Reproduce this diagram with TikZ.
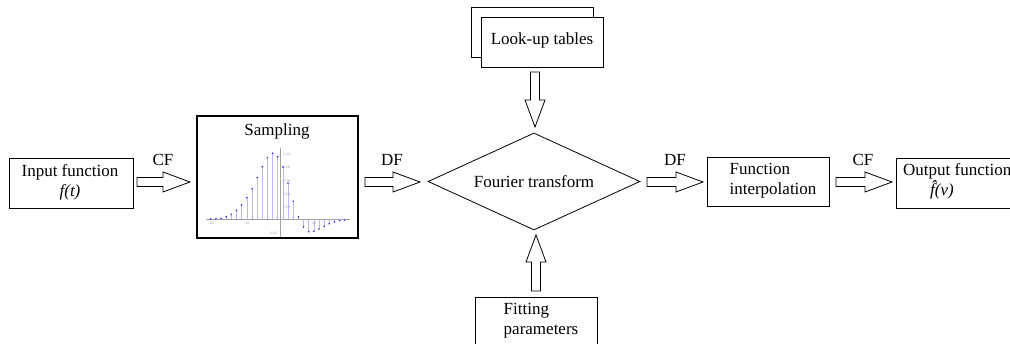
\documentclass[tikz,border=0pt]{standalone}
\usepackage{fontspec}
\setmainfont{Liberation Serif}
\newfontfamily\plotfont{Liberation Sans}
\usetikzlibrary{shapes.geometric}
\definecolor{stemc}{RGB}{185,185,240}
\definecolor{dotc}{RGB}{40,40,230}
\definecolor{axc}{RGB}{160,160,160}
\begin{document}
\begin{tikzpicture}[x=1pt,y=-1pt,
  txt/.style={font=\fontsize{17}{20}\selectfont, inner sep=0pt},
  box/.style={draw, line width=0.8pt, inner sep=0pt},
  pics/barrow/.style={code={\draw[line width=0.8pt, fill=white, line join=miter]
    (0,-4.5) -- ({#1-27},-4.5) -- ({#1-27},-10) -- (#1,0) -- ({#1-27},10) -- ({#1-27},4.5) -- (0,4.5) -- cycle;}},
  tick/.style={font=\plotfont\fontsize{3.5}{4}\selectfont, text=axc, inner sep=0pt}]
\useasboundingbox (0,0) rectangle (1010,344);
\clip (0,0) rectangle (1010,344);

% input
\node[box, minimum width=124pt, minimum height=50pt] (inbox) at (71,183) {};
\node[txt, align=center] (intxt) at (70,182) {Input function\\\textit{f(t)}};

% sampling
\node[draw, line width=1.1pt, minimum width=161pt, minimum height=122pt, inner sep=0pt] (samp) at (277.5,177) {};
\node[txt] (samptitle) at (277,131) {Sampling};
\draw[axc, line width=0.4pt] (206,219.3) -- (350,219.3);
\draw[axc, line width=0.4pt] (280,148) -- (280,237);
\foreach \p/\q in {210.7/219.0,215.9/218.8,221.0/218.3,226.2/216.7,231.3/214.3,236.5/210.3,241.6/205.0,246.8/197.7,252.0/188.7,257.1/177.7,262.3/166.7,267.4/157.7,272.6/153.3,277.7/156.7,282.9/167.0,288.0/183.3,293.2/201.3,298.4/217.0,303.5/227.0,308.7/231.7,313.8/231.3,319.0/229.0,324.1/226.3,329.3/223.7,334.4/222.0,339.6/220.7,344.7/220.0}{
  \draw[stemc, line width=0.6pt] (\p,219.3) -- (\p,\q);
  \fill[dotc] (\p,\q) circle (0.9pt);
}
\node[tick] (tx1) at (211,223.5) {-20};
\node[tick] (tx2) at (247,223.5) {-10};
\node[tick] (tx3) at (314,223.5) {10};
\node[tick] (ty1) at (287,154) {0.10};
\node[tick] (ty2) at (287,167.5) {0.08};
\node[tick] (ty3) at (287,181) {0.06};
\node[tick] (ty4) at (287,194.3) {0.04};
\node[tick] (ty5) at (287,207) {0.02};
\node[tick] (ty6) at (273,233) {-0.02};

% fourier
\node[draw, line width=0.8pt, shape=diamond, shape aspect=2.186, minimum width=212pt, minimum height=97pt, inner sep=0pt, txt] (ft) at (534,181.5) {Fourier transform};

% look-up tables
\node[box, minimum width=122pt, minimum height=50pt] (lutback) at (532,32) {};
\node[box, fill=white, minimum width=122pt, minimum height=50pt] (lut) at (542,42) {};
\node[txt] (luttxt) at (542,40) {Look-up tables};

% fitting parameters
\node[box, minimum width=122pt, minimum height=64pt] (fit) at (536,329) {};
\node[txt, align=left] (fittxt) at (541,321) {Fitting\\parameters};

% function interpolation
\node[box, minimum width=122pt, minimum height=49pt] (interp) at (768,181.5) {};
\node[txt, align=left] (interptxt) at (773,180.5) {Function\\interpolation};

% output
\node[box, minimum width=140pt, minimum height=50pt] (outbox) at (966,183) {};
\node[txt, align=left, anchor=west] (outtxt) at (903,181.5) {Output function\\\hspace{27pt}\textit{\^{f}(v)}};

% arrows
\coordinate (a1) at (137,182);
\coordinate (a2) at (365,182);
\coordinate (a3) at (647,182);
\coordinate (a4) at (836,182);
\coordinate (a5) at (535,72);
\coordinate (a6) at (536,291);
\pic at (a1) {barrow=53};
\pic at (a2) {barrow=55};
\pic at (a3) {barrow=56};
\pic at (a4) {barrow=56};
\pic[rotate=-90] at (a5) {barrow=55};
\pic[rotate=90] at (a6) {barrow=56};

\node[txt] (l1) at (163,160) {CF};
\node[txt] (l2) at (392,160) {DF};
\node[txt] (l3) at (675,160) {DF};
\node[txt] (l4) at (863,160) {CF};
\end{tikzpicture}
\end{document}
